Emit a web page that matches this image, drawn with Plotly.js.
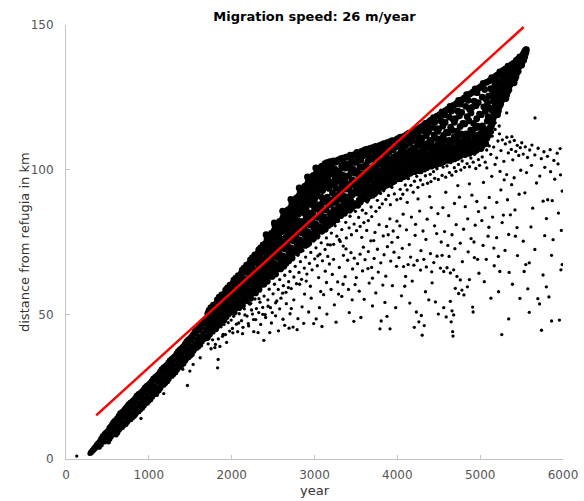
<!DOCTYPE html>
<html><head><meta charset="utf-8">
<script src="https://cdn.plot.ly/plotly-3.0.1.min.js"></script>
<style>html,body{margin:0;padding:0;background:#fff}#chart{width:584px;height:501px}</style>
</head><body><div id="chart"></div>
<script>
// [year, distance km]
const earlyBand = [
[288,1.9],[296,2.4],[305,2.1],[313,3.0],[322,2.7],[330,3.6],[339,3.1],[347,4.2],[356,3.6],[364,4.9],[372,4.1],[381,5.5],[389,4.6],[397,5.9],
[403,4.1],[408,6.4],[414,5.2],[420,7.2],[426,4.8],[432,6.6],[438,8.0],[444,5.9],[450,7.6],[456,6.3],[462,8.8],[468,5.9],[474,7.9],[480,9.3],[486,7.0],[492,8.5],[498,6.5],
[503,9.9],[508,7.4],[513,5.9],[519,10.9],[524,8.6],[530,6.8],[535,11.4],[541,9.5],[546,7.6],[552,12.2],[557,10.1],[563,8.2],[568,12.9],[574,10.8],[579,8.9],[585,13.4],[590,11.2],[596,9.4],
[602,12.0],[606,8.3],[611,14.2],[615,10.1],[620,12.9],[625,9.0],[630,15.0],[634,11.3],[639,13.6],[644,9.9],[648,15.9],[653,12.4],[658,10.5],[663,14.8],[667,11.9],[672,16.4],[677,13.5],[682,10.9],[686,15.6],[691,12.8],[696,17.0],
[702,11.6],[706,14.6],[711,17.6],[715,12.8],[720,15.7],[725,11.9],[730,18.2],[734,14.0],[739,16.8],[744,12.7],[748,19.0],[753,15.2],[758,13.4],[763,17.8],[767,14.6],[772,19.6],[777,16.4],[782,13.6],[786,18.7],[791,15.8],[796,20.1],
[802,14.2],[806,17.6],[811,20.5],[815,15.5],[820,18.8],[825,14.7],[830,21.2],[834,16.8],[839,19.8],[844,15.4],[848,22.0],[853,18.1],[858,16.1],[863,20.9],[867,17.4],[872,22.6],[877,19.3],[882,16.3],[886,21.8],[891,18.6],[896,23.1],
[902,17.0],[906,20.4],[911,23.4],[915,18.3],[920,21.7],[925,17.5],[930,24.1],[934,19.7],[939,22.7],[944,18.3],[948,24.9],[953,21.0],[958,19.0],[963,23.9],[967,20.4],[972,25.5],[977,22.3],[982,19.3],[986,24.7],[991,21.6],[996,26.0],
[1002,20.0],[1006,23.4],[1011,26.4],[1015,21.3],[1020,24.7],[1025,20.5],[1030,27.1],[1034,22.7],[1039,25.7],[1044,21.3],[1048,27.9],[1053,24.0],[1058,22.0],[1063,26.9],[1067,23.4],[1072,28.5],[1077,25.3],[1082,22.3],[1086,27.7],[1091,24.6],[1096,29.0],
[1102,23.0],[1106,26.5],[1111,29.5],[1115,24.4],[1120,27.8],[1125,23.6],[1130,30.3],[1134,25.8],[1139,28.9],[1144,24.4],[1148,31.1],[1153,27.2],[1158,25.2],[1163,30.1],[1167,26.6],[1172,31.8],[1177,28.5],[1182,25.5],[1186,31.0],[1191,27.8],[1196,32.3],
[1202,26.1],[1206,29.6],[1211,32.7],[1215,27.5],[1220,31.0],[1225,26.7],[1230,33.4],[1234,28.9],[1239,32.0],[1244,27.5],[1248,34.2],[1253,30.3],[1258,28.3],[1263,33.2],[1267,29.7],[1272,34.8],[1277,31.6],[1282,28.6],[1286,34.0],[1291,30.9],[1296,35.3],
[1302,29.2],[1306,32.7],[1311,35.8],[1315,30.6],[1320,34.1],[1325,29.8],[1330,36.6],[1334,32.0],[1339,35.2],[1344,30.7],[1348,37.4],[1353,33.5],[1358,31.4],[1363,36.4],[1367,32.9],[1372,38.1],[1377,34.8],[1382,31.7],[1386,37.3],[1391,34.1],[1396,38.6],
[1402,32.3],[1406,35.9],[1411,39.1],[1415,33.8],[1420,37.4],[1425,32.9],[1430,39.9],[1434,35.2],[1439,38.5],[1444,33.9],[1448,40.8],[1453,36.8],[1458,34.6],[1463,39.8],[1467,36.2],[1472,41.5],[1477,38.2],[1482,35.0],[1486,40.7],[1491,37.5],[1496,42.0],
[1502,35.5],[1506,39.2],[1511,42.5],[1515,37.0],[1520,40.8],[1525,36.1],[1530,43.3],[1534,38.5],[1539,41.9],[1544,37.2],[1548,44.2],[1553,40.1],[1558,37.9],[1563,43.2],[1567,39.5],[1572,44.9],[1577,41.6],[1582,38.3],[1586,44.1],[1591,40.9],[1596,45.5],
[1602,38.7],[1606,42.5],[1611,46.0],[1615,40.2],[1620,44.2],[1625,39.3],[1630,46.8],[1634,41.8],[1639,45.4],[1644,40.4],[1648,47.7],[1653,43.5],[1658,41.1],[1663,46.7],[1667,42.8],[1672,48.4],[1677,45.0],[1682,41.5],[1686,47.6],[1691,44.3],[1696,49.0]
];
const midBand = [
[1702,46.8],[1707,42.0],[1712,50.2],[1717,44.5],[1722,48.3],[1727,51.4],[1733,43.1],[1738,47.2],[1744,45.6],[1749,52.3],[1755,49.0],[1761,44.2],[1767,50.9],[1773,46.6],[1779,53.2],[1785,48.1],[1791,45.3],[1797,51.6],
[1802,49.6],[1807,45.0],[1812,53.6],[1817,47.4],[1822,51.4],[1827,55.0],[1833,46.1],[1838,50.3],[1844,48.7],[1849,55.9],[1855,52.3],[1861,47.0],[1867,54.4],[1873,49.8],[1879,56.7],[1885,51.2],[1891,48.2],[1897,55.1],
[1902,52.7],[1907,48.0],[1912,57.1],[1917,50.6],[1922,54.5],[1927,58.4],[1933,49.2],[1938,53.5],[1944,51.9],[1949,59.1],[1955,55.6],[1961,50.1],[1967,57.7],[1973,53.0],[1979,60.1],[1985,54.3],[1991,51.3],[1997,58.5],
[2002,55.8],[2007,50.9],[2012,60.5],[2017,53.7],[2022,57.6],[2027,61.8],[2033,52.1],[2038,56.7],[2044,55.0],[2049,62.5],[2055,58.9],[2061,53.1],[2067,61.0],[2073,56.1],[2079,63.4],[2085,57.3],[2091,54.3],[2097,61.9],[2030,50.7],[2088,52.3],
[2102,58.9],[2107,53.6],[2112,64.0],[2117,56.5],[2122,60.8],[2127,65.3],[2133,54.8],[2138,59.8],[2144,58.0],[2149,66.0],[2155,62.2],[2161,55.8],[2167,64.5],[2173,59.1],[2179,67.0],[2185,60.4],[2191,57.2],[2197,65.4],[2130,53.1],[2188,54.7],
[2202,62.0],[2207,56.2],[2212,67.5],[2217,59.3],[2222,64.0],[2227,68.8],[2233,57.5],[2238,62.9],[2244,61.0],[2249,69.5],[2255,65.5],[2261,58.6],[2267,68.0],[2273,62.2],[2279,70.5],[2285,63.6],[2291,60.1],[2297,68.9],[2230,55.6],[2288,57.4],[2246,66.3],
[2302,65.1],[2307,59.0],[2312,71.0],[2317,62.3],[2322,67.2],[2327,72.3],[2333,60.3],[2338,66.0],[2344,64.1],[2349,73.0],[2355,68.8],[2361,61.5],[2367,71.5],[2373,65.3],[2379,74.0],[2385,66.8],[2391,63.1],[2397,72.4],[2330,58.6],[2388,60.4],[2346,69.7],
[2402,68.2],[2407,61.8],[2412,74.6],[2417,65.0],[2422,70.0],[2427,76.0],[2433,63.0],[2438,69.1],[2444,66.9],[2449,77.0],[2455,71.2],[2461,64.2],[2467,75.7],[2473,68.4],[2479,78.0],[2485,69.9],[2491,66.0],[2497,76.6],[2430,61.4],[2488,63.1],[2446,73.9],[2415,77.5],
[2502,71.3],[2507,64.4],[2512,78.8],[2517,67.6],[2522,72.9],[2527,80.1],[2533,65.6],[2538,72.0],[2544,69.8],[2549,81.2],[2555,73.8],[2561,66.8],[2567,79.7],[2573,71.2],[2579,82.1],[2585,72.8],[2591,68.7],[2597,80.6],[2530,63.9],[2588,65.7],[2546,77.6],[2515,81.6],[2570,76.9],
[2602,74.4],[2607,67.0],[2612,82.9],[2617,70.2],[2622,75.8],[2627,84.2],[2633,68.2],[2638,74.9],[2644,72.6],[2649,85.3],[2655,76.5],[2661,69.4],[2667,83.8],[2673,74.0],[2679,86.1],[2685,75.6],[2691,71.4],[2697,84.7],[2630,66.6],[2688,68.4],[2646,81.4],[2615,85.7],[2670,80.6],[2694,82.0],
[2702,77.5],[2707,69.9],[2712,86.9],[2717,73.0],[2722,78.8],[2727,88.3],[2733,71.1],[2738,77.8],[2744,75.4],[2749,89.4],[2755,79.3],[2761,72.3],[2767,87.9],[2773,76.9],[2779,90.1],[2785,78.5],[2791,74.2],[2797,88.8],[2730,69.5],[2788,71.3],[2746,85.2],[2715,89.7],[2770,84.4],[2794,86.0],
[2802,80.5],[2807,72.6],[2812,90.9],[2817,75.8],[2822,81.7],[2827,92.3],[2833,73.9],[2838,80.8],[2844,78.2],[2849,93.4],[2855,82.1],[2861,75.0],[2867,91.9],[2873,79.8],[2879,94.1],[2885,81.4],[2891,77.0],[2897,92.8],[2830,72.3],[2888,73.8],[2846,89.0],[2815,93.7],[2870,88.2],[2894,90.0],[2858,86.9],
[2902,83.4],[2907,75.2],[2912,94.9],[2917,78.6],[2922,84.6],[2927,96.1],[2933,76.4],[2938,83.6],[2944,80.9],[2949,97.2],[2955,85.0],[2961,77.7],[2967,95.8],[2973,82.6],[2979,97.8],[2985,84.2],[2991,79.8],[2997,96.5],[2930,74.6],[2988,76.2],[2946,92.9],[2915,97.5],[2970,91.9],[2994,93.8],[2958,90.7],
[3002,86.3],[3007,77.6],[3012,98.3],[3017,81.2],[3022,87.4],[3027,99.5],[3033,78.8],[3038,86.3],[3044,83.5],[3049,100.4],[3055,87.8],[3061,80.3],[3067,99.1],[3073,85.4],[3079,100.9],[3085,87.0],[3091,82.4],[3097,99.9],[3030,77.0],[3088,78.7],[3046,96.2],[3015,100.6],[3070,95.4],[3094,97.1],[3058,94.0],[3025,92.6],
[3102,89.0],[3107,80.0],[3112,101.2],[3117,83.7],[3122,89.9],[3127,102.1],[3133,81.2],[3138,88.8],[3144,86.0],[3149,102.4],[3155,90.5],[3161,82.7],[3167,101.7],[3173,87.9],[3179,102.6],[3185,89.5],[3191,84.8],[3197,101.9],[3130,79.4],[3188,81.1],[3146,99.3],[3115,98.6],[3170,98.0],[3194,99.8],[3158,96.7],[3125,95.5],[3180,95.1]
];
const midFill = [
[2405,72.3],[2425,73.8],[2452,74.6],[2470,71.9],[2493,73.2],[2436,76.8],[2481,75.2],
[2505,75.0],[2526,76.4],[2553,77.9],[2576,74.6],[2598,76.0],[2540,79.6],[2584,79.0],[2522,80.8],
[2604,78.5],[2627,79.6],[2652,81.8],[2676,77.9],[2699,79.4],[2641,83.4],[2683,82.9],[2620,82.0],[2662,85.1],
[2705,81.0],[2726,82.7],[2752,84.3],[2777,80.9],[2798,82.4],[2741,87.3],[2782,86.8],[2722,86.0],[2763,89.0],[2790,90.3],
[2804,84.6],[2826,85.8],[2851,88.0],[2876,84.9],[2898,86.4],[2840,91.4],[2881,91.0],[2822,90.0],[2862,93.0],[2890,94.3],
[2904,87.4],[2925,89.0],[2951,91.3],[2976,87.8],[2999,89.5],[2940,95.2],[2981,94.9],[2922,93.8],[2962,96.9],[2990,98.0],
[3004,90.3],[3025,91.9],[3051,94.6],[3076,90.7],[3099,92.8],[3040,98.3],[3081,97.9],[3022,97.3],[3062,100.2],[3090,101.2],
[3104,93.3],[3126,95.0],[3151,97.6],[3176,93.5],[3199,95.8],[3140,100.6],[3181,100.4],[3122,100.0],[3162,102.2],[3190,102.8]
];
const wedgeBand = [
[3202,95.3],[3206,83.1],[3209,101.8],[3213,88.4],[3217,92.0],[3221,98.7],[3224,81.9],[3228,103.0],[3232,86.2],[3236,94.6],[3240,90.1],[3243,100.3],[3247,84.0],[3251,97.2],[3255,102.6],[3259,88.9],[3263,93.5],[3266,82.7],[3270,99.6],[3274,85.8],[3278,95.9],[3282,103.3],[3286,91.2],[3290,87.3],[3293,98.1],[3297,84.6],
[3301,99.2],[3305,86.5],[3309,92.8],[3312,103.7],[3316,84.1],[3320,96.4],[3324,89.7],[3327,101.3],[3331,94.2],[3335,85.6],[3339,104.0],[3343,91.1],[3347,98.0],[3350,87.8],[3354,102.2],[3358,95.6],[3362,84.9],[3366,90.4],[3369,100.5],[3373,97.1],[3377,86.9],[3381,104.3],[3385,93.3],[3389,88.6],[3392,101.8],[3396,95.0],
[3402,90.6],[3405,104.4],[3409,87.1],[3413,97.9],[3417,93.8],[3421,101.4],[3424,86.0],[3428,95.2],[3432,105.0],[3436,89.4],[3440,99.6],[3443,92.1],[3447,103.1],[3451,86.8],[3455,96.5],[3459,91.3],[3463,104.9],[3466,100.2],[3470,88.3],[3474,94.7],[3478,102.5],[3482,87.6],[3486,98.8],[3489,105.3],[3493,92.6],[3497,96.0],
[3501,102.6],[3505,88.2],[3509,95.7],[3512,106.0],[3516,91.9],[3520,99.4],[3524,87.7],[3527,104.1],[3531,93.4],[3535,97.8],[3539,89.5],[3543,105.6],[3547,101.0],[3550,94.9],[3554,88.8],[3558,103.3],[3562,91.0],[3566,98.5],[3569,106.3],[3573,96.2],[3577,89.9],[3581,100.8],[3585,93.0],[3589,104.8],[3592,90.7],[3596,97.1],
[3602,94.5],[3606,106.8],[3610,90.0],[3613,101.6],[3617,97.3],[3621,92.4],[3625,105.1],[3628,99.0],[3632,89.8],[3636,107.1],[3640,95.8],[3644,102.9],[3647,91.6],[3651,98.4],[3655,106.2],[3659,93.7],[3663,100.6],[3666,90.9],[3670,104.3],[3674,96.8],[3678,107.4],[3682,92.9],[3686,99.9],[3689,103.6],[3693,94.1],[3697,91.2],
[3701,103.9],[3705,92.0],[3709,98.8],[3712,107.7],[3716,95.3],[3720,101.2],[3724,91.7],[3727,106.0],[3731,97.6],[3735,93.6],[3739,108.0],[3743,100.1],[3747,94.8],[3750,104.7],[3754,92.5],[3758,99.5],[3762,107.2],[3766,96.3],[3769,102.4],[3773,93.1],[3777,105.5],[3781,98.2],[3785,108.3],[3789,94.4],[3792,101.8],[3796,96.9],
[3802,97.0],[3806,108.6],[3810,94.2],[3813,103.0],[3817,99.7],[3821,95.5],[3825,107.3],[3828,101.5],[3832,93.9],[3836,109.0],[3840,98.3],[3844,105.2],[3847,95.0],[3851,100.8],[3855,108.2],[3859,96.4],[3863,103.9],[3866,94.6],[3870,106.6],[3874,99.1],[3878,109.3],[3882,95.9],[3886,102.2],[3889,105.9],[3893,97.8],[3897,94.9],
[3901,106.4],[3905,96.0],[3909,101.1],[3912,109.7],[3916,98.4],[3920,103.7],[3924,95.4],[3927,108.3],[3931,100.0],[3935,97.1],[3939,110.0],[3943,102.6],[3947,96.7],[3950,106.9],[3954,95.9],[3958,104.5],[3962,109.4],[3966,99.3],[3969,102.9],[3973,96.5],[3977,107.8],[3981,100.9],[3985,110.3],[3989,97.7],[3992,104.8],[3996,98.9],
[4002,99.6],[4006,110.7],[4010,97.0],[4013,105.3],[4017,102.0],[4021,97.9],[4025,109.2],[4028,103.8],[4032,96.9],[4036,111.2],[4040,100.6],[4044,107.1],[4047,98.1],[4051,102.9],[4055,110.3],[4059,99.0],[4063,106.2],[4066,97.5],[4070,108.6],[4074,101.4],[4078,111.5],[4082,98.6],[4086,104.4],[4089,108.0],[4093,100.2],[4097,97.8],
[4101,108.4],[4105,98.5],[4109,103.4],[4112,112.1],[4116,100.7],[4120,105.9],[4124,98.2],[4127,110.4],[4131,102.3],[4135,99.4],[4139,112.6],[4143,104.9],[4147,99.0],[4150,109.1],[4154,98.8],[4158,106.7],[4162,111.7],[4166,101.6],[4169,105.1],[4173,99.7],[4177,110.0],[4181,103.1],[4185,112.9],[4189,100.1],[4192,107.3],[4196,101.2],
[4202,101.9],[4206,113.4],[4210,99.3],[4213,107.6],[4217,104.1],[4221,100.0],[4225,111.5],[4228,105.8],[4232,99.8],[4236,114.1],[4240,102.7],[4244,109.3],[4247,100.4],[4251,104.8],[4255,112.8],[4259,101.3],[4263,108.4],[4266,99.6],[4270,110.9],[4274,103.5],[4278,114.6],[4282,100.9],[4286,106.3],[4289,110.2],[4293,102.2],[4297,100.2],
[4301,111.0],[4305,100.5],[4309,105.6],[4312,115.2],[4316,102.8],[4320,108.2],[4324,100.2],[4327,113.3],[4331,104.3],[4335,101.4],[4339,116.0],[4343,107.2],[4347,100.9],[4350,111.8],[4354,100.7],[4358,109.0],[4362,115.1],[4366,103.6],[4369,107.8],[4373,101.7],[4377,113.1],[4381,105.3],[4385,116.6],[4389,102.1],[4392,110.0],[4396,103.2],
[4402,104.0],[4406,117.1],[4410,101.2],[4413,110.1],[4417,106.3],[4421,102.0],[4425,114.6],[4428,108.0],[4432,101.8],[4436,118.0],[4440,104.7],[4444,112.0],[4447,102.4],[4451,106.9],[4455,116.5],[4459,103.3],[4463,110.9],[4466,101.6],[4470,114.2],[4474,105.6],[4478,118.5],[4482,102.9],[4486,108.7],[4489,113.2],[4493,104.4],[4497,102.2],
[4501,114.1],[4505,102.5],[4509,107.8],[4512,119.0],[4516,104.9],[4520,110.6],[4524,102.2],[4527,116.8],[4531,106.5],[4535,103.4],[4539,120.0],[4543,109.4],[4547,102.9],[4550,115.1],[4554,102.7],[4558,111.9],[4562,118.9],[4566,105.7],[4569,110.2],[4573,103.8],[4577,116.3],[4581,107.6],[4585,120.4],[4589,104.2],[4592,113.0],[4596,105.2],
[4602,106.3],[4606,120.8],[4610,103.2],[4613,112.7],[4617,108.4],[4621,104.0],[4625,118.2],[4628,110.1],[4632,103.8],[4636,121.9],[4640,106.8],[4644,114.7],[4647,104.4],[4651,109.1],[4655,120.3],[4659,105.4],[4663,113.6],[4666,103.6],[4670,117.5],[4674,107.6],[4678,122.2],[4682,104.9],[4686,111.3],[4689,116.4],[4693,106.4],[4697,104.3],
[4701,117.6],[4705,104.5],[4709,110.1],[4712,122.8],[4716,107.0],[4720,113.3],[4724,104.2],[4727,120.3],[4731,108.7],[4735,105.4],[4739,123.9],[4743,111.8],[4747,104.9],[4750,118.6],[4754,104.7],[4758,114.9],[4762,122.7],[4766,107.8],[4769,112.4],[4773,105.8],[4777,119.8],[4781,109.8],[4785,124.2],[4789,106.2],[4792,116.0],[4796,107.3],
[4802,108.4],[4806,124.7],[4810,105.2],[4813,115.8],[4817,110.6],[4821,106.0],[4825,121.9],[4828,112.4],[4832,105.8],[4836,125.9],[4840,108.9],[4844,118.3],[4847,106.4],[4851,111.3],[4855,124.0],[4859,107.4],[4863,116.9],[4866,105.6],[4870,121.0],[4874,109.8],[4878,126.2],[4882,106.9],[4886,113.7],[4889,119.6],[4893,108.5],[4897,106.3],
[4901,121.5],[4905,106.5],[4909,112.5],[4912,126.8],[4916,109.1],[4920,116.0],[4924,106.2],[4927,123.7],[4931,111.0],[4935,107.4],[4939,127.9],[4943,114.4],[4947,106.9],[4950,122.1],[4954,106.7],[4958,117.6],[4962,126.6],[4966,109.8],[4969,115.0],[4973,107.8],[4977,123.2],[4981,112.0],[4985,128.2],[4989,108.2],[4992,119.2],[4996,109.3],
[5002,110.6],[5006,128.7],[5010,107.3],[5013,119.0],[5017,113.2],[5021,108.3],[5025,125.1],[5028,115.1],[5032,108.5],[5036,129.8],[5040,111.6],[5044,121.7],[5047,109.4],[5051,114.0],[5055,127.7],[5059,110.0],[5063,120.2],[5066,109.0],[5070,124.3],[5074,112.6],[5078,130.2],[5082,110.9],[5086,116.8],[5089,123.0],[5093,112.2],[5097,118.3],
[5101,125.4],[5105,112.0],[5109,117.6],[5112,130.7],[5116,114.4],[5120,121.3],[5124,113.2],[5127,128.0],[5131,117.1],[5135,115.0],[5139,131.8],[5143,120.5],[5147,116.0],[5150,126.4],[5154,117.3],[5158,123.7],[5162,130.9],[5166,119.8],[5169,125.1],[5173,118.6],[5177,129.0],[5181,122.4],[5185,132.2],[5189,120.2],[5192,127.3],[5196,123.5],
[5202,121.3],[5206,132.7],[5210,119.0],[5213,126.9],[5217,123.4],[5221,120.4],[5225,130.4],[5228,125.3],[5232,121.8],[5236,133.8],[5240,124.0],[5244,129.3],[5247,122.6],[5251,127.6],[5255,133.0],[5259,123.9],[5263,128.5],[5266,124.8],[5270,131.6],[5274,126.3],[5278,134.3],[5282,125.7],[5286,130.0],[5289,132.6],[5293,127.2],[5297,129.1],
[5302,126.5],[5306,134.8],[5310,124.6],[5313,130.3],[5317,128.0],[5321,125.8],[5325,133.2],[5328,129.6],[5332,127.0],[5336,135.8],[5340,128.9],[5344,132.4],[5347,127.6],[5351,131.1],[5355,135.3],[5359,129.3],[5363,132.9],[5366,130.5],[5370,134.4],[5374,131.7],[5378,136.3],[5382,130.4],[5386,133.6],[5389,135.0],[5393,132.0],[5397,133.8],
[5402,131.0],[5406,136.8],[5410,130.0],[5413,134.2],[5417,132.4],[5421,131.4],[5425,135.9],[5428,133.7],[5432,132.1],[5436,137.8],[5440,133.3],[5444,136.0],[5447,134.6],[5451,135.2],[5455,138.1],[5459,134.0],[5463,136.9],[5466,135.6],[5470,138.3],[5474,136.3],[5478,139.0],[5482,135.9],[5486,137.5],[5489,138.7],[5493,136.8],[5497,138.0],
[5502,136.2],[5506,138.9],[5510,137.4],[5514,139.6],[5518,138.2],[5522,140.0],[5526,137.9],[5530,139.3],[5534,140.6],[5538,139.0],[5542,141.0],[5546,140.1],[5550,141.4],[5554,140.7],[5558,141.5]
];
const looseBelow = [
[1716,39.8],[1733,42.9],[1751,38.1],[1770,41.2],[1786,43.6],[1804,39.6],[1823,44.8],[1839,41.5],[1858,38.9],[1872,45.7],[1890,42.4],[1907,46.5],[1925,43.0],[1939,40.3],[1958,47.1],[1976,44.2],[1994,48.0],
[2009,45.1],[2024,49.3],[2041,51.5],[2057,46.6],[2073,44.0],[2091,50.2],[2108,53.0],[2119,47.8],[2137,45.5],[2153,51.9],[2170,54.8],[2186,49.4],[2201,46.8],[2219,53.5],[2233,56.7],[2251,50.1],[2264,48.2],[2282,55.3],[2299,52.0],
[2311,57.9],[2327,50.6],[2342,54.2],[2358,59.6],[2375,52.4],[2391,56.3],[2404,49.9],[2420,61.2],[2437,55.0],[2453,58.7],[2468,52.3],[2484,62.6],[2500,57.1],[2517,60.4],[2531,54.0],[2548,64.0],[2562,58.6],[2580,62.0],[2595,55.6],
[2609,65.4],[2624,59.9],[2641,63.5],[2656,57.6],[2673,67.1],[2688,61.3],[2704,64.8],[2719,58.9],[2736,68.9],[2751,62.9],[2767,66.6],[2782,60.6],[2799,70.4],[2813,64.5],[2830,68.2],[2844,62.1],[2861,72.0],[2877,66.0],[2893,69.8],
[2908,63.9],[2924,73.6],[2939,67.6],[2955,71.4],[2971,65.4],[2987,75.3],[3002,69.2],[3018,73.0],[3034,66.8],[3050,77.0],[3065,70.8],[3081,74.7],[3096,68.5],[3113,78.6],[3128,72.4],[3144,76.4],[3160,70.0],[3176,80.1],[3192,74.0],
[3204,78.1],[3219,83.0],[3231,74.2],[3249,80.6],[3262,85.4],[3270,77.0],[3291,82.2],[3299,75.8],[3316,86.1],[3330,79.3],[3347,73.6],[3359,84.5],[3377,81.8],[3384,76.4],[3403,87.3],[3418,79.9],[3429,83.9],[3446,77.5],[3461,88.0],[3478,81.2],[3494,85.6],
[3508,78.9],[3516,88.7],[3533,83.5],[3551,80.4],[3561,90.1],[3578,86.0],[3596,81.7],[3604,91.6],[3621,84.9],[3637,88.8],[3650,82.4],[3668,92.7],[3683,87.1],[3691,83.8],[3714,90.6],[3727,94.0],[3741,85.6],[3759,89.4],[3766,93.6],[3784,86.9],[3797,91.8],
[3809,95.3],[3818,88.2],[3835,92.7],[3849,96.4],[3861,89.7],[3879,94.3],[3893,91.1],[3907,97.4],[3916,87.9],[3934,93.9],[3950,98.1],[3964,91.6],[3977,95.6],[3994,89.6],[4004,97.0],[4021,99.0],[4035,93.2],[4049,96.3],[4066,91.5],[4080,98.4],[4096,94.7],
[4104,99.6],[4118,93.0],[4133,96.9],[4149,100.2],[4163,94.6],[4176,98.5],[4192,92.2],[4207,96.0],[4216,100.8],[4234,97.7],[4248,93.9],[4265,101.4],[4279,96.4],[4292,99.0],[4308,94.8],[4322,101.9],[4339,97.9],[4352,100.1],[4365,95.3],[4383,102.3],[4397,98.4],
[4406,95.9],[4421,102.8],[4437,99.3],[4450,97.0],[4466,103.2],[4479,100.3],[4495,96.6],[4511,101.9],[4524,104.0],[4540,98.0],[4553,100.9],[4570,103.7],[4584,97.4],[4599,101.3],[4612,104.6],[4629,99.0],[4645,102.4],[4658,98.1],[4674,105.0],[4688,100.7],[4699,103.1],
[4708,99.4],[4724,104.3],[4738,101.8],[4755,105.5],[4767,99.9],[4783,103.0],[4797,106.0],[4811,100.8],[4829,104.7],[4842,102.1],[4858,106.5],[4871,101.0],[4888,104.0],[4903,107.0],[4916,102.6],[4932,105.3],[4947,100.4],[4963,106.8],[4979,103.5],[4993,101.5]
];
const notchSpread = [
[5008,107.0],[5025,104.4],[5043,109.2],[5061,102.6],[5079,106.8],[5096,110.7],[5110,108.2],[5128,105.3],[5146,111.6],[5163,107.8],
[5181,113.9],[5199,104.1],[5215,109.9],[5233,112.4],[5251,106.6],[5268,110.3],[5286,102.9],[5304,108.9],[5322,111.2],[5340,105.8],
[5358,109.6],[5376,107.0],[5394,103.4],[5412,110.1],[5430,106.3],[5448,108.4],[5466,104.9],[5484,107.6],[5502,109.3],[5520,105.4],
[5545,107.9],[5572,104.2],[5598,106.8],[5625,108.5],[5660,105.1],[5700,107.4],[5738,103.8],[5770,106.2],[5812,104.6],[5845,106.9],
[5890,103.2],[5930,105.7],[5965,107.3],[5182,116.2],[5150,113.0],[5120,114.6],[5100,112.3],[5230,115.1],[5040,112.8],[5320,119.6],
[5662,117.9],[5383,111.4]
];
const farScatter = [
[130,1.0],[1102,22.0],[1234,27.0],[1275,29.8],[1466,25.4],[1495,30.4],[1535,32.7],[1797,38.5],[1830,31.5],[1837,34.4],[1897,43.1],[905,14.0],[1180,22.6],[1410,31.0],[1620,35.0],
[2014,43.6],[2131,43.3],[2267,44.0],[2319,43.7],[2388,41.0],[2460,43.7],[2085,47.0],[2160,49.8],[2205,46.0],[2240,51.5],[2290,48.2],[2350,46.5],[2410,48.9],[2440,52.8],[2480,47.0],[2230,53.8],[2330,55.4],[2490,50.6],[2375,50.0],
[2565,44.3],[2693,45.2],[2741,45.6],[2790,44.7],[2530,49.5],[2580,51.9],[2620,48.3],[2660,53.7],[2705,50.2],[2750,55.0],[2800,48.5],[2850,52.6],[2880,57.0],[2930,50.8],[2960,55.6],[2990,46.8],[2545,54.6],[2615,57.3],[2685,59.2],[2720,52.0],[2820,60.4],[2900,61.5],[2950,59.7],[2640,46.2],[2870,46.9],
[3020,48.4],[3060,52.3],[3110,56.8],[3150,50.1],[3200,58.6],[3240,53.3],[3280,61.2],[3330,56.2],[3370,63.0],[3410,58.6],[3460,65.7],[3490,60.3],[3050,62.7],[3130,64.9],[3180,67.4],[3230,69.0],[3300,66.2],[3350,70.4],[3400,68.7],[3440,71.3],[3480,69.4],[3090,45.8],[3260,47.3],[3420,50.6],[3040,70.2],[3160,74.1],[3310,75.2],[3380,72.6],
[3520,67.5],[3550,70.8],[3580,65.0],[3610,68.9],[3650,71.7],[3690,66.2],[3720,69.3],[3760,72.5],[3800,67.8],[3840,70.6],[3880,73.4],[3920,68.4],[3960,71.5],[3990,66.6],[3540,58.0],[3600,55.2],[3660,60.8],[3700,52.9],[3740,57.4],[3790,45.0],[3805,47.7],[3850,54.1],[3912,45.0],[3940,59.9],[3980,52.3],[3570,76.6],[3630,79.0],[3680,75.4],[3730,78.3],[3780,81.0],[3830,77.1],[3870,80.4],[3910,83.0],[3950,78.8],[3995,82.2],[3560,48.9],[3700,62.5],[3860,63.2],
[4020,69.6],[4060,72.8],[4100,63.1],[4130,67.2],[4160,69.8],[4200,67.0],[4240,68.6],[4280,65.3],[4320,69.0],[4350,66.4],[4400,71.0],[4440,67.9],[4480,70.1],[4205,45.5],[4230,50.8],[4260,47.4],[4300,42.8],[4325,46.1],[4290,49.6],[4050,56.4],[4090,59.7],[4150,53.9],[4180,61.5],[4340,57.8],[4380,55.0],[4420,60.9],[4460,54.3],[4030,80.6],[4070,84.6],[4110,79.2],[4170,83.6],[4220,81.1],[4270,85.7],[4310,78.8],[4360,82.9],[4410,86.9],[4450,80.6],[4490,84.8],[4120,88.7],[4250,89.9],[4390,90.7],[4040,90.0],
[4520,66.0],[4560,64.8],[4600,66.1],[4640,64.3],[4680,65.4],[4720,63.1],[4760,61.9],[4804,56.7],[4846,59.5],[4909,52.5],[4915,50.8],[4640,54.5],[4660,51.2],[4680,49.8],[4650,47.4],[4668,44.0],[4672,42.5],[4560,52.3],[4590,49.1],[4700,59.0],[4740,57.2],[4780,58.4],[4870,62.0],[4930,69.6],[4969,69.0],[4530,75.0],[4570,78.6],[4610,73.8],[4660,77.5],[4710,81.0],[4760,74.6],[4800,79.4],[4850,83.0],[4890,76.2],[4940,80.8],[4980,85.5],[4550,86.9],[4620,84.1],[4690,88.3],[4750,90.5],[4820,87.2],[4900,91.2],[4960,89.0],[4585,92.2],[4730,94.5],[4870,95.1],
[5074,69.0],[5095,77.0],[5199,76.5],[5220,70.0],[5237,64.8],[5222,57.8],[5261,43.0],[5344,48.4],[5344,77.6],[5350,64.5],[5426,77.0],[5050,61.3],[5130,55.6],[5170,66.8],[5300,72.1],[5390,60.4],[5450,70.3],[5480,55.5],[5020,82.4],[5060,86.8],[5110,90.4],[5150,83.6],[5200,88.7],[5250,93.0],[5280,84.3],[5330,89.6],[5380,94.8],[5420,86.1],[5470,91.5],[5040,95.6],[5140,97.7],[5240,99.4],[5320,98.3],[5410,97.2],[5490,99.8],[5080,100.6],[5180,101.8],[5290,96.5],
[5551,67.2],[5593,67.8],[5531,64.8],[5759,63.6],[5990,67.2],[5975,65.4],[5862,70.4],[5799,59.5],[5696,55.4],[5717,53.6],[5593,50.7],[5862,47.7],[5957,48.0],[5634,86.7],[5945,85.0],[5800,83.1],[5613,80.2],[5779,77.2],[5760,89.1],[5815,89.6],[5870,89.3],[5540,92.0],[5680,95.4],[5900,96.7],[5970,98.2],[5560,99.0],[5720,97.8],[5850,99.3],[5620,101.5],[5780,100.8],[5940,102.0],[5990,92.6],[5520,75.3],[5660,72.4],[5880,75.8],[5980,79.0],[5575,58.8],[5830,56.0],[5740,44.5],
[3075,57.9],[3145,61.0],[3215,63.8],[3290,57.0],[3345,60.4],[3455,55.0],[3505,62.7],[3590,73.2],[3645,65.8],[3715,75.5],[3770,64.6],[3825,60.1],[3890,77.5],[3935,74.9],[4005,76.6],[4075,66.5],[4145,74.1],[4215,77.3],[4285,72.0],[4345,75.9],[4415,64.7],[4475,77.9],[4540,70.4],[4625,70.0],[4695,72.7],[4785,68.2],[4855,71.6],[4925,75.0],[4985,64.2],[5035,73.8],[5105,80.1],[5165,72.9],[5265,81.7],[5365,84.4],[5445,80.0],[3475,47.6],[3875,49.3],[4495,50.1]
];
const fitYear = [364, 5525];
const fitKm = [15.1, 149.3];
const xTicks = [0, 1000, 2000, 3000, 4000, 5000, 6000];
const yTicks = [0, 50, 100, 150];

const FONT = 'DejaVu Sans, Verdana, sans-serif';
const xs = a => a.map(p => p[0]);
const ys = a => a.map(p => p[1]);
const core = midBand.concat(midFill, wedgeBand);
const sparse = looseBelow.concat(notchSpread, farScatter);

const traces = [
  {type:'scatter', mode:'markers', x:xs(sparse), y:ys(sparse),
   marker:{color:'#000', size:3.3, line:{width:0}}, hoverinfo:'skip'},
  {type:'scatter', mode:'markers', x:xs(earlyBand), y:ys(earlyBand),
   marker:{color:'#000', size:5, line:{width:0}}, hoverinfo:'skip'},
  {type:'scatter', mode:'markers', x:xs(core), y:ys(core),
   marker:{color:'#000', size:6.8, line:{width:0}}, hoverinfo:'skip'},
  {type:'scatter', mode:'lines', x:fitYear, y:fitKm,
   line:{color:'#ff0000', width:2.5}, hoverinfo:'skip'}
];

const axisCommon = {
  showgrid:false, zeroline:false, showline:true, linecolor:'#c4c4c4', linewidth:1,
  ticks:'inside', ticklen:4, tickwidth:1, tickcolor:'#c4c4c4',
  tickfont:{family:FONT, size:12, color:'#555'}, fixedrange:true
};

const layout = {
  width:584, height:501, showlegend:false,
  paper_bgcolor:'#fff', plot_bgcolor:'#fff',
  margin:{l:66, r:21, t:25, b:42},
  title:{text:'Migration speed: 26 m/year', x:0.5, xref:'paper', xanchor:'center',
         y:1 - 16/501, yref:'container', yanchor:'middle',
         font:{family:FONT, size:13, color:'#000', weight:'bold'}},
  xaxis:Object.assign({}, axisCommon, {range:[0,6000], tickvals:xTicks, ticktext:xTicks.map(String),
         ticklabelstandoff:5,
         title:{text:'year', font:{family:FONT, size:13, color:'#333'}, standoff:4}}),
  yaxis:Object.assign({}, axisCommon, {range:[0,150], tickvals:yTicks, ticktext:yTicks.map(String),
         ticklabelstandoff:9}),
  annotations:[{text:'distance from refugia in km', textangle:-90, showarrow:false,
         xref:'paper', yref:'paper', x:(24-66)/497, y:0.5, xanchor:'center', yanchor:'middle',
         font:{family:FONT, size:13, color:'#333'}}]
};

Plotly.newPlot('chart', traces, layout, {staticPlot:true, displayModeBar:false});
</script></body></html>
